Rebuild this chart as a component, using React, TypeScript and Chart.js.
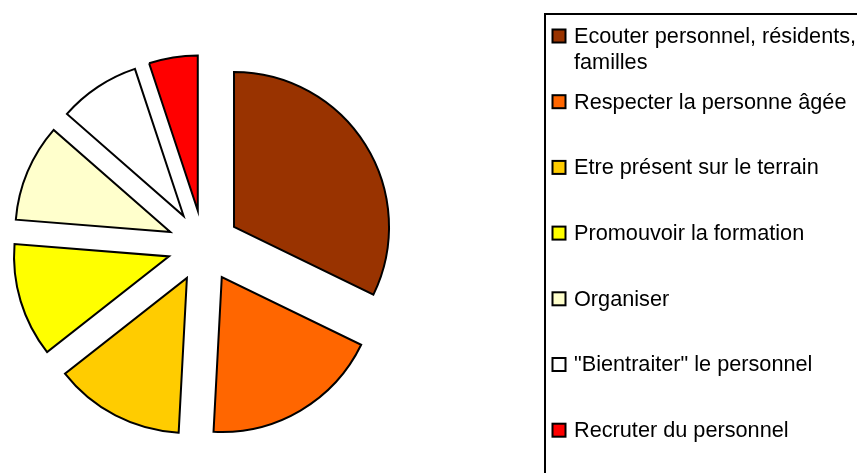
import React, { useEffect, useRef } from "react";
import { Chart, registerables } from "chart.js";

Chart.register(...registerables);

const categories = [
  "Ecouter personnel, résidents, familles",
  "Respecter la personne âgée",
  "Etre présent sur le terrain",
  "Promouvoir la formation",
  "Organiser",
  "\"Bientraiter\" le personnel",
  "Recruter du personnel",
];
const values = [19, 11, 8, 7, 6, 5, 3];
const colors = ["#993300", "#FF6600", "#FFCC00", "#FFFF00", "#FFFFCC", "#FFFFFF", "#FF0000"];

const EXPLODE = 36;
const FONT = "21.7px 'Liberation Sans', Arial, sans-serif";

const explodePlugin = {
  id: "explode",
  afterDatasetUpdate(chart: any, args: any) {
    const meta = chart.getDatasetMeta(args.index);
    meta.data.forEach((arc: any) => {
      const half = (arc.startAngle + arc.endAngle) / 2;
      arc.x += Math.cos(half) * EXPLODE;
      arc.y += Math.sin(half) * EXPLODE;
    });
  },
};

const legendPlugin = {
  id: "boxLegend",
  afterDraw(chart: any) {
    const ctx = chart.ctx;
    ctx.save();
    ctx.strokeStyle = "#000";
    ctx.lineWidth = 2;
    ctx.strokeRect(545, 14, 400, 500);
    ctx.font = FONT;
    ctx.textBaseline = "middle";
    ctx.textAlign = "left";
    const labels: string[] = chart.data.labels;
    const bg: string[] = chart.data.datasets[0].backgroundColor;
    const textX = 574;
    const maxW = 290;
    labels.forEach((label, i) => {
      const y = 36 + i * 65.7;
      ctx.fillStyle = bg[i];
      ctx.fillRect(552.5, y - 6.5, 13, 13);
      ctx.lineWidth = 2;
      ctx.strokeStyle = "#000";
      ctx.strokeRect(552.5, y - 6.5, 13, 13);
      // wrap
      const words = label.split(" ");
      const lines: string[] = [];
      let cur = "";
      words.forEach((w) => {
        const test = cur ? cur + " " + w : w;
        if (ctx.measureText(test).width > maxW && cur) {
          lines.push(cur);
          cur = w;
        } else cur = test;
      });
      if (cur) lines.push(cur);
      ctx.fillStyle = "#000";
      lines.forEach((ln, j) => ctx.fillText(ln, textX, y + j * 26 + 1));
    });
    ctx.restore();
  },
};

export default function App() {
  const ref = useRef<HTMLCanvasElement>(null);
  useEffect(() => {
    if (!ref.current) return;
    const chart = new Chart(ref.current, {
      type: "pie",
      data: {
        labels: categories,
        datasets: [
          {
            data: values,
            backgroundColor: colors,
            borderColor: "#000",
            borderWidth: 2,
            borderJoinStyle: "miter",
          } as any,
        ],
      },
      options: {
        responsive: false,
        animation: false,
        radius: 155,
        layout: { padding: { left: 0, right: 450, top: 19, bottom: 0 } },
        plugins: {
          legend: { display: false },
          tooltip: { enabled: false },
        },
      } as any,
      plugins: [explodePlugin, legendPlugin],
    });
    return () => chart.destroy();
  }, []);
  return (
    <div style={{ position: "fixed", left: 0, top: 0, width: 857, height: 473, background: "#fff" }}>
      <canvas ref={ref} width={857} height={473} style={{ width: 857, height: 473 }} />
    </div>
  );
}
